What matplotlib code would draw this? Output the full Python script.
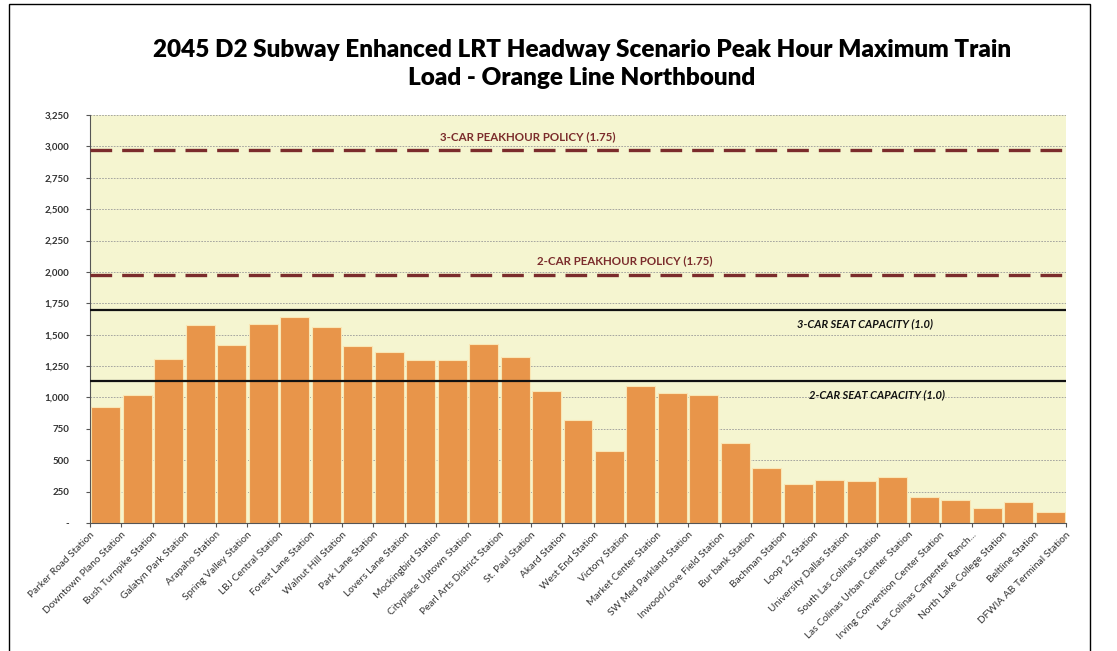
import matplotlib
matplotlib.use("Agg")
import matplotlib.pyplot as plt
from matplotlib.patches import Rectangle
import numpy as np

stations = [
    "Parker Road Station", "Downtown Plano Station", "Bush Turnpike Station",
    "Galatyn Park Station", "Arapaho Station", "Spring Valley Station",
    "LBJ Central Station", "Forest Lane Station", "Walnut Hill Station",
    "Park Lane Station", "Lovers Lane Station", "Mockingbird Station",
    "Cityplace Uptown Station", "Pearl Arts District Station", "St. Paul Station",
    "Akard Station", "West End Station", "Victory Station",
    "Market Center Station", "SW Med Parkland Station", "Inwood/Love Field Station",
    "Bur bank Station", "Bachman Station", "Loop 12 Station",
    "University Dallas Station", "South Las Colinas Station",
    "Las Colinas Urban Center Station", "Irving Convention Center Station",
    "Las Colinas Carpenter Ranch...", "North Lake College Station",
    "Beltline Station", "DFWIA AB Terminal Station",
]

# Segment loads (between consecutive stations)
loads = [922, 1018, 1304, 1575, 1421, 1588, 1641, 1559, 1408, 1360,
         1299, 1299, 1426, 1325, 1055, 817, 574, 1090, 1032, 1016,
         639, 435, 308, 343, 335, 369, 209, 184, 118, 166, 86]

seat_2car = 1131
seat_3car = 1697
peak_2car = 1979
peak_3car = 2970

yticks = list(range(0, 3251, 250))
ytick_labels = ["-"] + [f"{v:,}" for v in yticks[1:]]

plt.rcParams['font.family'] = ['Lato', 'DejaVu Sans']

W, H = 1117, 651
fig = plt.figure(figsize=(W / 100, H / 100), dpi=100)
fig.patch.set_facecolor("white")

# outer frame
fig.patches.append(Rectangle((9 / W, -0.01), (1090 - 9) / W, 1 - 4 / H + 0.01,
                             transform=fig.transFigure, fill=False,
                             edgecolor="black", linewidth=1.0))

ax = fig.add_axes([90 / W, 1 - 523 / H, (1066 - 90) / W, (523 - 115) / H])
ax.set_facecolor("#F5F5D0")

x = np.arange(len(loads)) + 0.5
ax.bar(x, loads, width=0.92, color="#E8954A", edgecolor="#F9E6B5",
       linewidth=0.8, zorder=2)

ax.set_xlim(0, len(stations) - 1)
ax.set_ylim(0, 3250)

ax.set_yticks(yticks)
ax.set_yticklabels(ytick_labels, fontsize=7, color="#333333", fontweight="bold")
ax.set_xticks(np.arange(len(stations)))
ax.set_xticklabels(stations, rotation=45, ha="right", rotation_mode="anchor",
                   fontsize=7.3, color="#333333")
ax.tick_params(axis="y", length=3, width=0.8, color="#555555", pad=12)
ax.tick_params(axis="x", length=3, width=0.8, color="#555555", pad=2)

ax.grid(axis="y", color="#999999", linestyle=(0, (2, 1.5)), linewidth=0.6, zorder=1)
ax.set_axisbelow(True)

for s in ["top", "right"]:
    ax.spines[s].set_visible(False)
ax.spines["left"].set_color("#555555")
ax.spines["bottom"].set_color("#555555")

dark_red = "#7B2C2C"
ax.axhline(peak_3car, color=dark_red, linewidth=2.4, linestyle=(0, (6.5, 3)), zorder=3)
ax.axhline(peak_2car, color=dark_red, linewidth=2.4, linestyle=(0, (6.5, 3)), zorder=3)
ax.axhline(seat_3car, color="#111111", linewidth=1.6, zorder=3)
ax.axhline(seat_2car, color="#111111", linewidth=1.6, zorder=3)

ax.text(13.9, peak_3car + 60, "3-CAR PEAKHOUR POLICY (1.75)", ha="center", va="bottom",
        fontsize=8.3, fontweight="bold", color=dark_red, zorder=4)
ax.text(17.0, peak_2car + 70, "2-CAR PEAKHOUR POLICY (1.75)", ha="center", va="bottom",
        fontsize=8.3, fontweight="bold", color=dark_red, zorder=4)
ax.text(24.6, 1586, "3-CAR SEAT CAPACITY (1.0)", ha="center", va="center",
        fontsize=8.0, fontweight="bold", fontstyle="italic", color="#111111", zorder=4)
ax.text(25.0, 1020, "2-CAR SEAT CAPACITY (1.0)", ha="center", va="center",
        fontsize=8.0, fontweight="bold", fontstyle="italic", color="#111111", zorder=4)

fig.text(582 / W, 1 - 64 / H,
         "2045 D2 Subway Enhanced LRT Headway Scenario Peak Hour Maximum Train\nLoad - Orange Line Northbound",
         ha="center", va="center", fontsize=17.5, fontweight="heavy", color="black",
         linespacing=1.3)

fig.savefig("out.png", dpi=100, facecolor="white")
